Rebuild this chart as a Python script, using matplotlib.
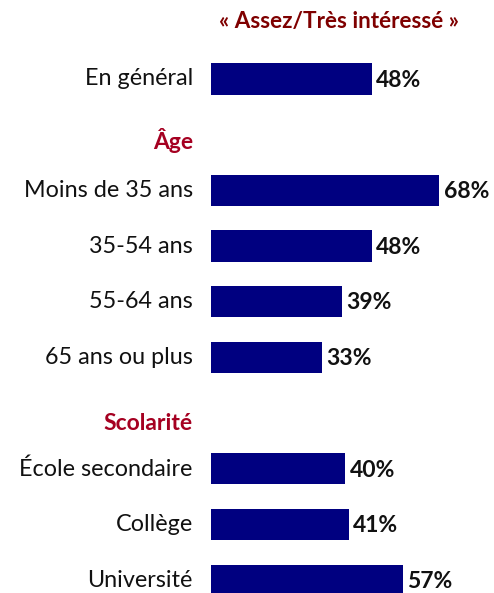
import matplotlib
matplotlib.use('Agg')
import matplotlib.pyplot as plt

plt.rcParams['font.family'] = ['Lato', 'DejaVu Sans']

# data
labels = ['En général', 'Moins de 35 ans', '35-54 ans', '55-64 ans', '65 ans ou plus',
          'École secondaire', 'Collège', 'Université']
values = [48, 68, 48, 39, 33, 40, 41, 57]
rows = [0, 2, 3, 4, 5, 7, 8, 9]
headers = ['Âge', 'Scolarité']
header_rows = [1.1, 6.18]
title = '« Assez/Très intéressé »'

bar_color = '#000080'
header_color = '#A50021'
title_color = '#7F0000'

fig = plt.figure(figsize=(4.94, 5.93), dpi=100)
ax = fig.add_axes([211 / 494, 0, 1 - 211 / 494, 1])

ax.barh(rows, values, height=0.56, color=bar_color)

# ylim chosen so rows land at the right pixel heights
ax.set_ylim(9.228, -1.418)
ax.set_xlim(0, (494 - 211) / 3.36)
ax.axis('off')

for r, lab, v in zip(rows, labels, values):
    ax.text(-5.4, r, lab, ha='right', va='center', fontsize=16.8, color='#111111', clip_on=False)
    ax.text(v + 1.2, r + 0.02, f'{v}%', ha='left', va='center', fontsize=16.5,
            fontweight='bold', color='#111111')

for r, h in zip(header_rows, headers):
    ax.text(-5.4, r, h, ha='right', va='center', fontsize=16.5, fontweight='bold',
            color=header_color, clip_on=False)

ax.text(38.0, -1.03, title, ha='center', va='center', fontsize=16.2, fontweight='bold',
        color=title_color)

fig.savefig('out.png', dpi=100)
